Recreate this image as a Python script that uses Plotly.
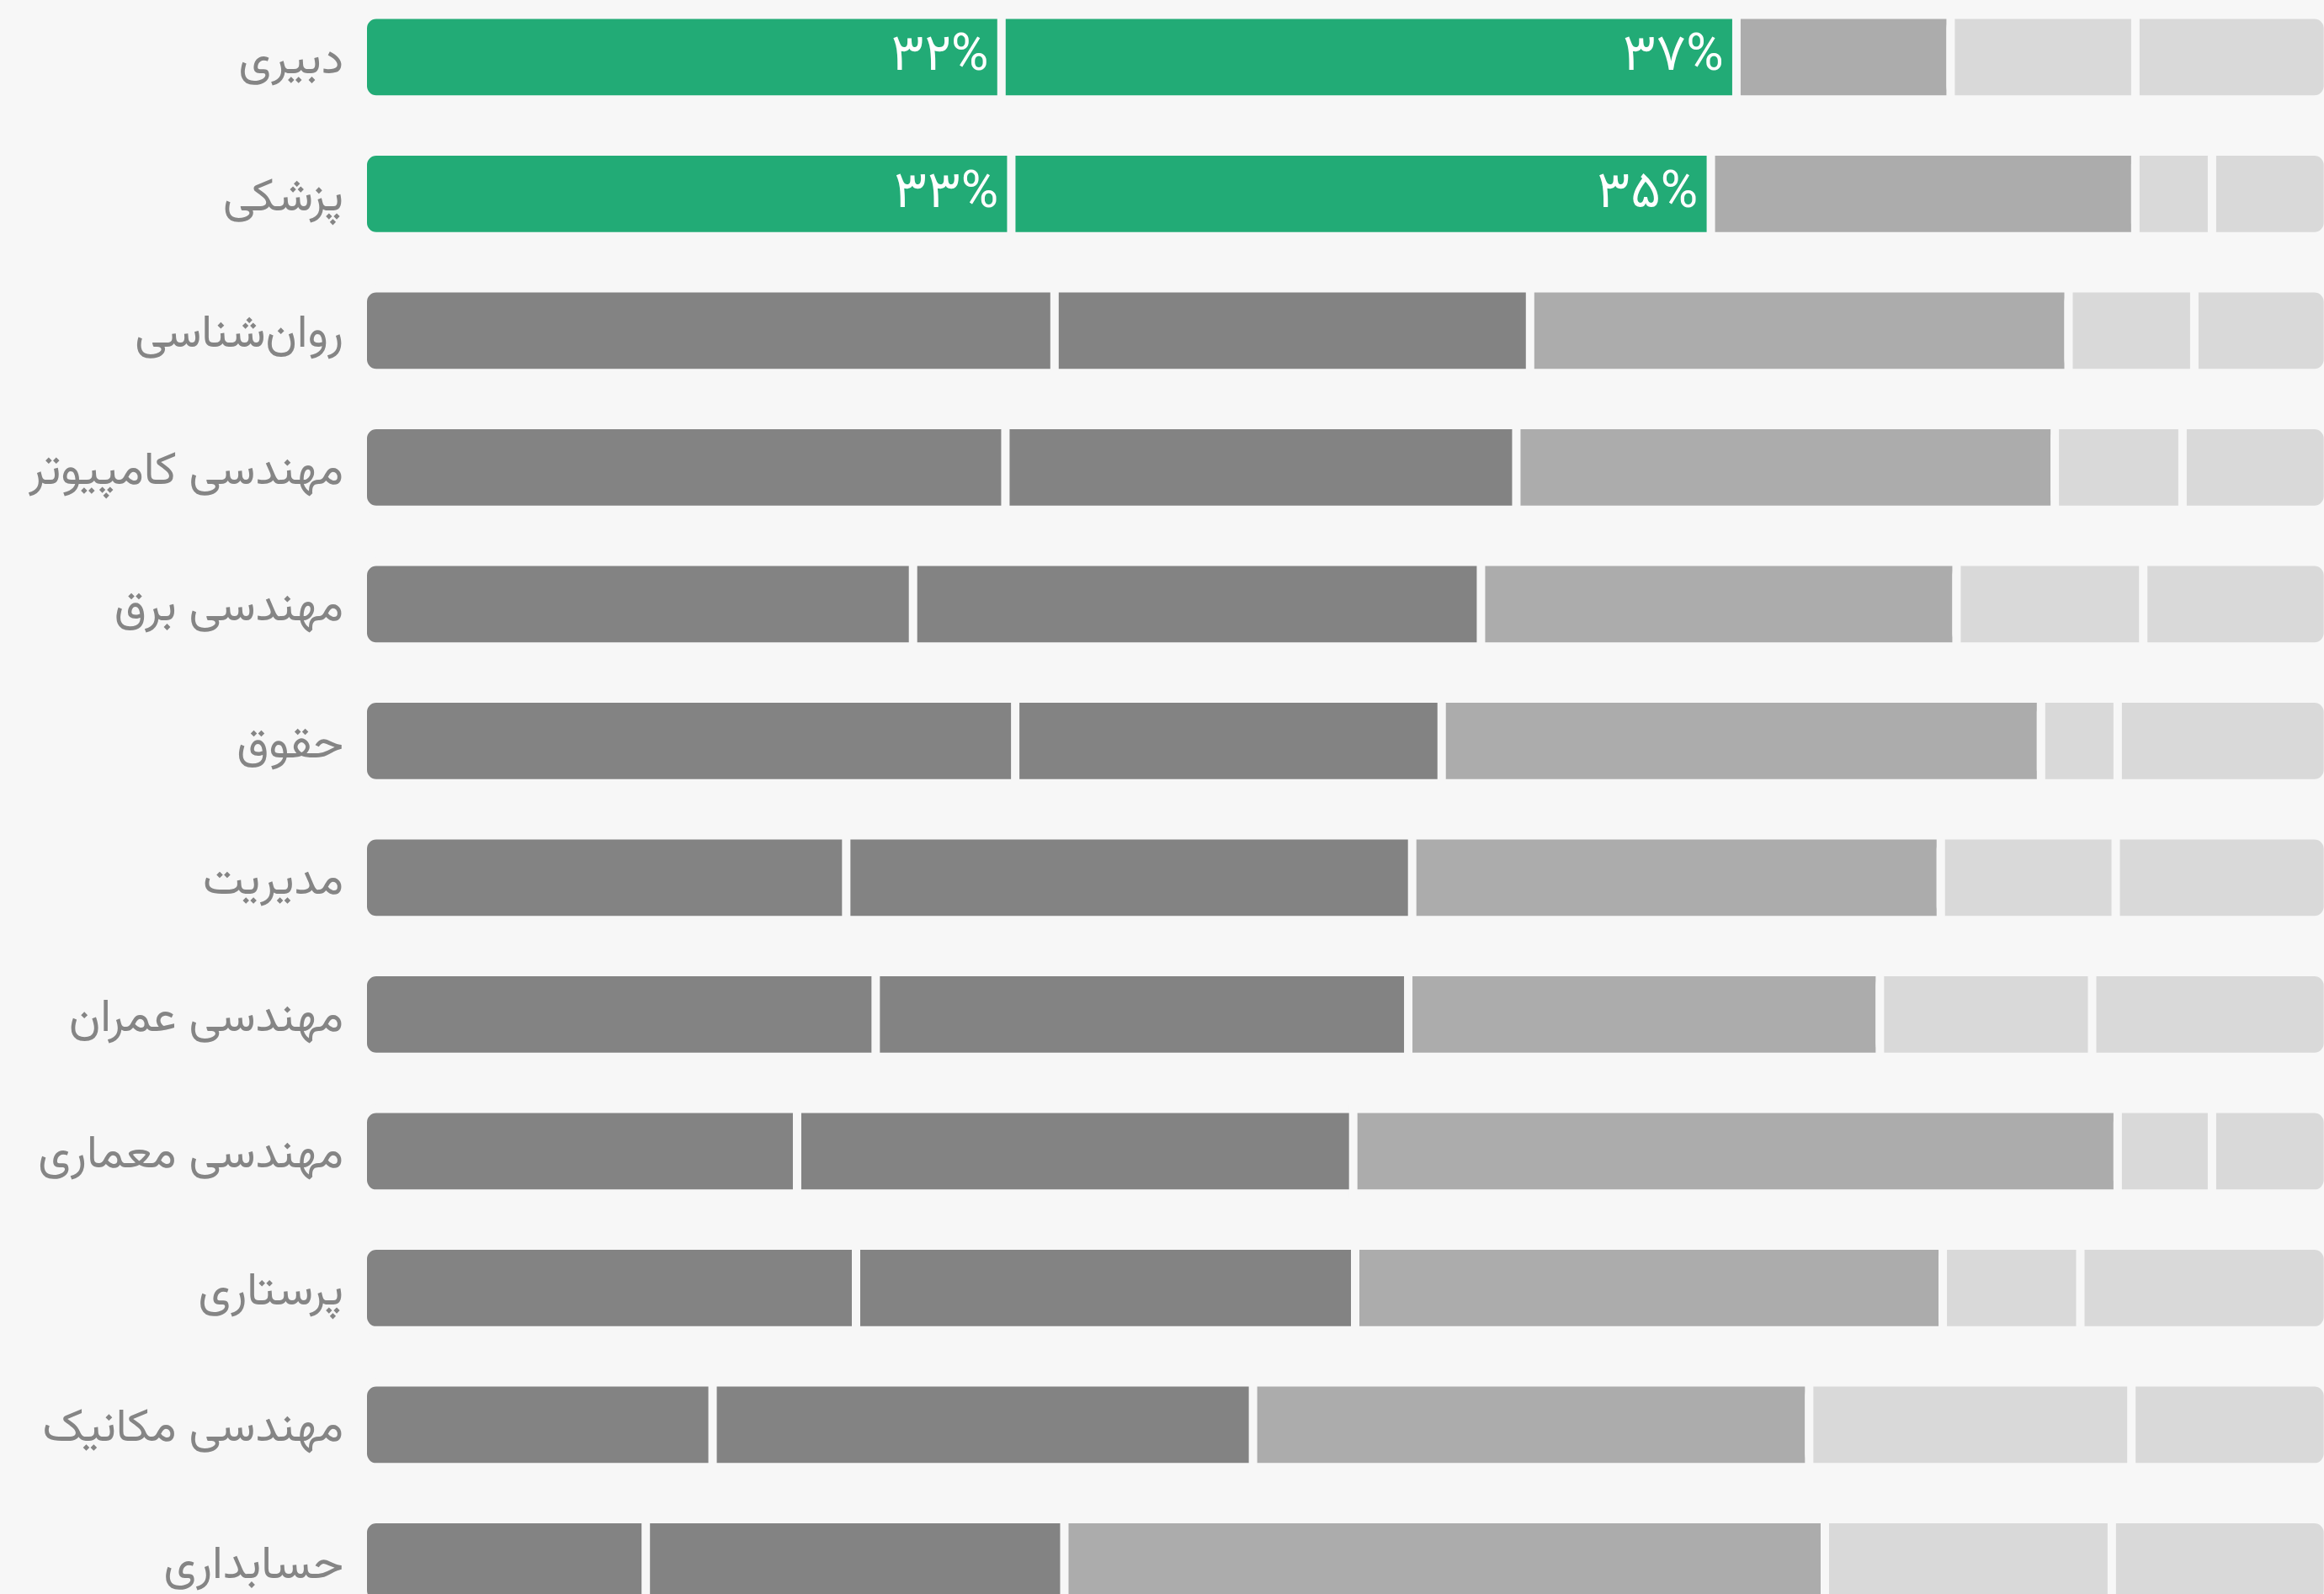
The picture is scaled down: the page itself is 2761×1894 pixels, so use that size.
import numpy as np
import plotly.graph_objects as go

categories = ["دبیری", "پزشکی", "روان‌شناسی", "مهندسی کامپیوتر", "مهندسی برق", "حقوق",
              "مدیریت", "مهندسی عمران", "مهندسی معماری", "پرستاری", "مهندسی مکانیک", "حسابداری"]
seg1 = [32.5, 33.0, 35.2, 32.7, 28.0, 33.2, 24.6, 26.1, 22.1, 25.1, 17.8, 14.4]
seg2 = [37.4, 35.6, 24.2, 26.0, 28.9, 21.7, 28.8, 27.1, 28.3, 25.4, 27.5, 21.3]
seg3 = [10.9, 21.6, 27.4, 27.4, 24.2, 30.5, 26.9, 24.0, 38.9, 29.9, 28.3, 38.7]
seg4 = [9.4, 3.9, 6.4, 6.5, 9.5, 3.9, 8.9, 10.8, 4.8, 7.0, 16.4, 14.6]
seg5 = [9.8, 5.9, 6.8, 7.4, 9.4, 10.7, 10.8, 12.0, 5.9, 12.6, 10.0, 11.0]
label1 = ["۳۲%", "۳۳%"] + [""] * 10
label2 = ["۳۷%", "۳۵%"] + [""] * 10
highlight = [True, True] + [False] * 10

GREEN = "#22ab76"
DARK = "#838383"
MID = "#acacac"
LIGHT = "#d9d9d9"
BG = "#f7f7f7"
FONT = "Vazirmatn, DejaVu Sans"

s1 = np.array(seg1); s2 = np.array(seg2); s3 = np.array(seg3); s4 = np.array(seg4); s5 = np.array(seg5)
c1 = s1
c2 = c1 + s2
c3 = c2 + s3
c4 = c3 + s4
total = c4 + s5

dark_cols = [GREEN if h else DARK for h in highlight]
line = dict(color=BG, width=10)
width = 0.62
tfont = dict(family=FONT, size=62, color="white")
pad = "\u2009"

fig = go.Figure()
# layered segments (bottom to top): start -> end, colour, corner radius
specs = [
    (np.zeros(len(categories)), total, dark_cols, 16),
    (c1, total, dark_cols, 0),
    (c2, total, MID, 0),
    (c3, total, LIGHT, 16),
    (c3, c4, LIGHT, 0),
]
for start, end, col, rad in specs:
    fig.add_trace(go.Bar(y=categories, x=list(end - start), base=list(start), orientation="h",
                         width=width, marker=dict(color=col, line=line, cornerradius=rad),
                         hoverinfo="skip"))
# value labels at the end of the first two segments
for cum, lab in [(c1, label1), (c2, label2)]:
    fig.add_trace(go.Bar(y=categories, x=list(cum), orientation="h", width=width,
                         marker=dict(color="rgba(0,0,0,0)", line=dict(width=0)),
                         text=[t + pad if t else "" for t in lab], textposition="inside",
                         insidetextanchor="end", textfont=tfont, hoverinfo="skip"))

fig.update_layout(
    width=2761, height=1894,
    barmode="overlay",
    showlegend=False,
    paper_bgcolor=BG, plot_bgcolor=BG,
    margin=dict(l=431, r=0, t=0, b=0, pad=0, autoexpand=False),
    uniformtext=dict(minsize=10, mode="show"),
    font=dict(family=FONT),
)
fig.update_xaxes(range=[0, 99.8], visible=False, fixedrange=True, automargin=False)
fig.update_yaxes(type="category", categoryorder="array", categoryarray=categories,
                 range=[11.237, -0.418], showgrid=False, zeroline=False, showline=False,
                 ticks="", ticklabelstandoff=22, fixedrange=True, automargin=False,
                 tickfont=dict(family=FONT, size=55, color="#858585"))

fig.write_html("out.html",
               config={"displayModeBar": False, "responsive": False},
               post_script="document.body.style.margin='0';document.body.style.background='#f7f7f7';")
